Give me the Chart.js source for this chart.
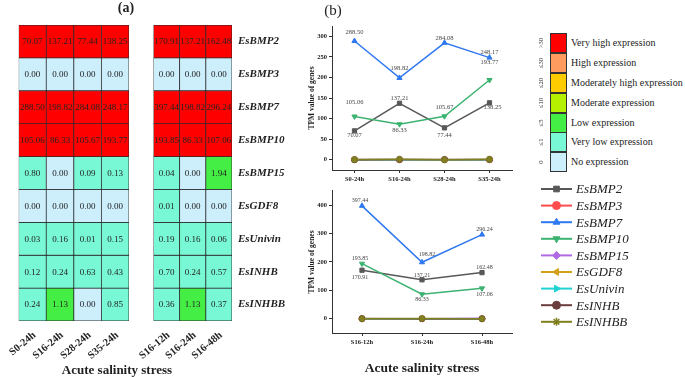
<!DOCTYPE html>
<html>
<head>
<meta charset="utf-8">
<script src="https://cdn.jsdelivr.net/npm/chart.js@4.4.0/dist/chart.umd.min.js"></script>
<style>
  body { margin: 0; background: #fff; }
  #wrap { position: relative; width: 685px; height: 377px; overflow: hidden;
          font-family: "Liberation Serif", "Times New Roman", serif; color: #222; }
  canvas { position: absolute; }
  .t { position: absolute; white-space: nowrap; line-height: 1; transform: translate(-50%, -50%); }
  .key { position: absolute; left: 550px; width: 15px; height: 18px; border: 1px solid #333; }
  .keyText { position: absolute; left: 571px; font-size: 10px; line-height: 1; transform: translateY(-50%); white-space: nowrap; }
  .keyTick { position: absolute; left: 541px; font-size: 6.5px; line-height: 1; transform: translate(-50%, -50%) rotate(-90deg); white-space: nowrap; }
</style>
</head>
<body>
<div id="wrap">
  <canvas id="heatA" width="140" height="377" style="left:0;top:0"></canvas>
  <canvas id="heatB" width="175" height="377" style="left:130px;top:0"></canvas>
  <canvas id="lineA" width="240" height="190" style="left:290px;top:0"></canvas>
  <canvas id="lineB" width="395" height="192" style="left:290px;top:185px"></canvas>

  <div class="t" style="left:126px;top:8px;font-size:14px;font-weight:bold">(a)</div>
  <div class="t" style="left:333px;top:10px;font-size:15px">(b)</div>
  <div class="t" style="left:117px;top:369px;font-size:13px;font-weight:bold">Acute salinity stress</div>
  <div class="t" style="left:422px;top:368px;font-size:13.5px;font-weight:bold">Acute salinity stress</div>
  <div id="colorKey"></div>
</div>

<script>
// time points
const salinityLabels = ['S0-24h', 'S16-24h', 'S28-24h', 'S35-24h'];
const durationLabels = ['S16-12h', 'S16-24h', 'S16-48h'];

const genes = ['EsBMP2', 'EsBMP3', 'EsBMP7', 'EsBMP10', 'EsBMP15', 'EsGDF8', 'EsUnivin', 'EsINHB', 'EsINHBB'];

// TPM per gene: first 4 = salinity series, last 3 = duration series
const EsBMP2   = [70.07, 137.21, 77.44, 138.25, 170.91, 137.21, 162.48];
const EsBMP3   = [0.00, 0.00, 0.00, 0.00, 0.00, 0.00, 0.00];
const EsBMP7   = [288.50, 198.82, 284.08, 248.17, 397.44, 198.82, 296.24];
const EsBMP10  = [105.06, 86.33, 105.67, 193.77, 193.85, 86.33, 107.06];
const EsBMP15  = [0.80, 0.00, 0.09, 0.13, 0.04, 0.00, 1.94];
const EsGDF8   = [0.00, 0.00, 0.00, 0.00, 0.01, 0.00, 0.00];
const EsUnivin = [0.03, 0.16, 0.01, 0.15, 0.19, 0.16, 0.06];
const EsINHB   = [0.12, 0.24, 0.63, 0.43, 0.70, 0.24, 0.57];
const EsINHBB  = [0.24, 1.13, 0.00, 0.85, 0.36, 1.13, 0.37];

const geneValues = [EsBMP2, EsBMP3, EsBMP7, EsBMP10, EsBMP15, EsGDF8, EsUnivin, EsINHB, EsINHBB];

// expression classes (upper bound, name)
const levelLimits = [0, 1, 5, 10, 20, 30, Infinity];
const levelNames = ['No expression', 'Very low expression', 'Low expression', 'Moderate expression',
                    'Moderately high expression', 'High expression', 'Very high expression'];
const levelTicks = ['0', '\u22641', '\u22645', '\u226410', '\u226420', '\u226430', '>30'];
const levelColors = ['#cdeefb', '#78f8d4', '#44ee44', '#b4f000', '#ffcc00', '#ff9b5e', '#ff0000'];

const lineColors = ['#585858', '#ff4d4d', '#2f78f0', '#3cb371', '#b06ae6', '#d4a017', '#22d3d3', '#6b3d3d', '#808020'];
const markers = ['rect', 'circle', 'triangle', 'triangle', 'rectRot', 'triangle', 'triangle', 'circle', 'star'];
const markerTurn = [0, 0, 0, 180, 0, 270, 90, 0, 0];

const SERIF = '"Liberation Serif", "Times New Roman", serif';

function levelColor(v) {
  if (v <= 0) return levelColors[0];
  for (let i = 1; i < levelLimits.length; i++) if (v <= levelLimits[i]) return levelColors[i];
  return levelColors[levelColors.length - 1];
}

// color key legend
(function () {
  const box = document.getElementById('colorKey');
  for (let i = 0; i < levelNames.length; i++) {
    const r = levelNames.length - 1 - i;          // top = very high
    const top = 33.3 + i * 19.8;
    box.insertAdjacentHTML('beforeend',
      `<div class="key" style="top:${top}px;background:${levelColors[r]}"></div>` +
      `<div class="keyText" style="top:${top + 10}px">${levelNames[r]}</div>` +
      `<div class="keyTick" style="top:${top + 10}px">${levelTicks[r]}</div>`);
  }
})();

const cellText = {
  id: 'cellText',
  afterDatasetsDraw(chart) {
    const ctx = chart.ctx;
    ctx.save();
    ctx.font = '9px ' + SERIF;
    ctx.fillStyle = '#222';
    ctx.textAlign = 'center';
    ctx.textBaseline = 'middle';
    chart.data.datasets.forEach((ds, di) => {
      chart.getDatasetMeta(di).data.forEach((bar, i) => {
        const p = bar.getProps(['x', 'y', 'base'], true);
        ctx.fillText(ds.values[i].toFixed(2), p.x, (p.y + p.base) / 2 + 0.5);
      });
    });
    ctx.restore();
  }
};

function heatmap(id, labels, from, to, withGenes, pad) {
  const scales = {
    x: {
      stacked: true,
      grid: { display: false, drawTicks: false },
      border: { display: false },
      ticks: { font: { family: SERIF, size: 10.5, weight: 'bold' }, color: '#222',
               minRotation: 40, maxRotation: 40, padding: 8, labelOffset: 2, autoSkip: false },
      afterFit(s) { s.height = 56; }
    },
    y: { stacked: true, min: 0, max: genes.length, reverse: true, display: false }
  };
  if (withGenes) {
    scales.genes = {
      type: 'category', labels: genes, position: 'right', offset: true,
      grid: { display: false, drawTicks: false }, border: { display: false },
      ticks: { font: { family: SERIF, size: 11, weight: 'bold', style: 'italic' }, color: '#222',
               padding: 6, autoSkip: false },
      afterFit(s) { s.width = 73; }
    };
  }
  new Chart(document.getElementById(id), {
    type: 'bar',
    data: {
      labels: labels,
      datasets: genes.map((g, gi) => {
        const vals = geneValues[gi].slice(from, to);
        return {
          label: g,
          data: vals.map(() => 1),
          values: vals,
          backgroundColor: vals.map(levelColor),
          borderColor: '#2a2a2a',
          borderWidth: 0.75,
          borderSkipped: false,
          categoryPercentage: 1,
          barPercentage: 1
        };
      })
    },
    options: {
      responsive: false,
      animation: false,
      layout: { padding: pad, autoPadding: false },
      plugins: { legend: { display: false }, tooltip: { enabled: false } },
      scales: scales
    },
    plugins: [cellText]
  });
}

heatmap('heatA', salinityLabels, 0, 4, false, { left: 6, right: 11, top: 25, bottom: 0 });
heatmap('heatB', durationLabels, 4, 7, true, { left: 5, right: 0, top: 25, bottom: 0 });

const pointLabels = {
  id: 'pointLabels',
  afterDatasetsDraw(chart, args, opts) {
    const ctx = chart.ctx;
    ctx.save();
    ctx.font = opts.size + 'px ' + SERIF;
    ctx.fillStyle = '#444';
    ctx.textAlign = 'center';
    ctx.textBaseline = 'middle';
    Object.keys(opts.offsets).forEach(k => {
      const di = +k;
      const ds = chart.data.datasets[di];
      chart.getDatasetMeta(di).data.forEach((pt, i) => {
        const o = opts.offsets[k][i];
        ctx.fillText(ds.data[i].toFixed(2), pt.x + o[0], pt.y + o[1]);
      });
    });
    ctx.restore();
  }
};

const seriesKey = {
  id: 'seriesKey',
  afterDraw(chart, args, opts) {
    if (!opts.show) return;
    const ctx = chart.ctx;
    ctx.save();
    chart.data.datasets.forEach((ds, i) => {
      const y = opts.top + i * opts.step;
      ctx.strokeStyle = ds.borderColor;
      ctx.fillStyle = ds.borderColor;
      ctx.lineWidth = 2;
      ctx.beginPath();
      ctx.moveTo(opts.x, y);
      ctx.lineTo(opts.x + 31, y);
      ctx.stroke();
      ctx.lineWidth = ds.pointStyle === 'star' ? 1.5 : 1;
      Chart.helpers.drawPoint(ctx, { pointStyle: ds.pointStyle, rotation: ds.pointRotation, radius: 4, borderWidth: 1 },
                              opts.x + 15.5, y);
      ctx.fillStyle = '#222';
      ctx.font = 'italic 13px ' + SERIF;
      ctx.textAlign = 'left';
      ctx.textBaseline = 'middle';
      ctx.fillText(ds.label, opts.x + 35, y + 1);
    });
    ctx.restore();
  }
};

function lineChart(id, labels, from, to, yMin, yMax, yTicks, pad, xHeight, labelOpts, keyOpts) {
  new Chart(document.getElementById(id), {
    type: 'line',
    data: {
      labels: labels,
      datasets: genes.map((g, gi) => ({
        label: g,
        data: geneValues[gi].slice(from, to),
        borderColor: lineColors[gi],
        backgroundColor: lineColors[gi],
        borderWidth: 1.5,
        pointStyle: markers[gi],
        pointRotation: markerTurn[gi],
        pointRadius: markers[gi] === 'star' ? 3.5 : 3,
        pointBorderWidth: markers[gi] === 'star' ? 1.6 : 1,
        order: genes.length - gi
      }))
    },
    options: {
      responsive: false,
      animation: false,
      layout: { padding: pad, autoPadding: false },
      plugins: {
        legend: { display: false }, tooltip: { enabled: false },
        pointLabels: labelOpts,
        seriesKey: keyOpts
      },
      scales: {
        x: {
          offset: true,
          grid: { drawOnChartArea: false, tickLength: 3, color: '#333' },
          border: { color: '#333', width: 1 },
          ticks: { font: { family: SERIF, size: 6.5, weight: 'bold' }, color: '#222', padding: 2, maxRotation: 0 },
          afterFit(s) { s.height = xHeight; }
        },
        y: {
          min: yMin, max: yMax,
          afterBuildTicks(s) { s.ticks = yTicks.map(v => ({ value: v })); },
          grid: { drawOnChartArea: false, tickLength: 3, color: '#333' },
          border: { color: '#333', width: 1 },
          ticks: { font: { family: SERIF, size: 6.5, weight: 'bold' }, color: '#222', padding: 2 },
          title: { display: true, text: 'TPM value of genes', font: { family: SERIF, size: 7.5, weight: 'bold' },
                   color: '#222', padding: 0 },
          afterFit(s) { s.width = 24; }
        }
      }
    },
    plugins: [pointLabels, seriesKey]
  });
}

lineChart('lineA', salinityLabels, 0, 4, -25, 325, [0, 50, 100, 150, 200, 250, 300],
  { left: 18, right: 18, top: 26, bottom: 0 }, 20,
  { size: 6.5, offsets: {
      0: [[0, 4.5], [0, -5], [0, 7.5], [3, 4.5]],
      2: [[0, -8.4], [0, -10], [0, -5], [0, -5]],
      3: [[0, -14.4], [0, 6], [0, -8.7], [0, -17.7]] } },
  { show: false });

lineChart('lineB', durationLabels, 4, 7, -50, 450, [0, 100, 200, 300, 400],
  { left: 18, right: 173, top: 4, bottom: 0 }, 44,
  { size: 6, offsets: {
      0: [[-2, 7.3], [0, -4.6], [2.5, -5]],
      2: [[-2, -5], [5, -7.7], [2.5, -5]],
      3: [[-2, -5.3], [0, 4.7], [2.5, 5.6]] } },
  { show: true, x: 251, top: 4, step: 16.6 });
</script>
</body>
</html>
